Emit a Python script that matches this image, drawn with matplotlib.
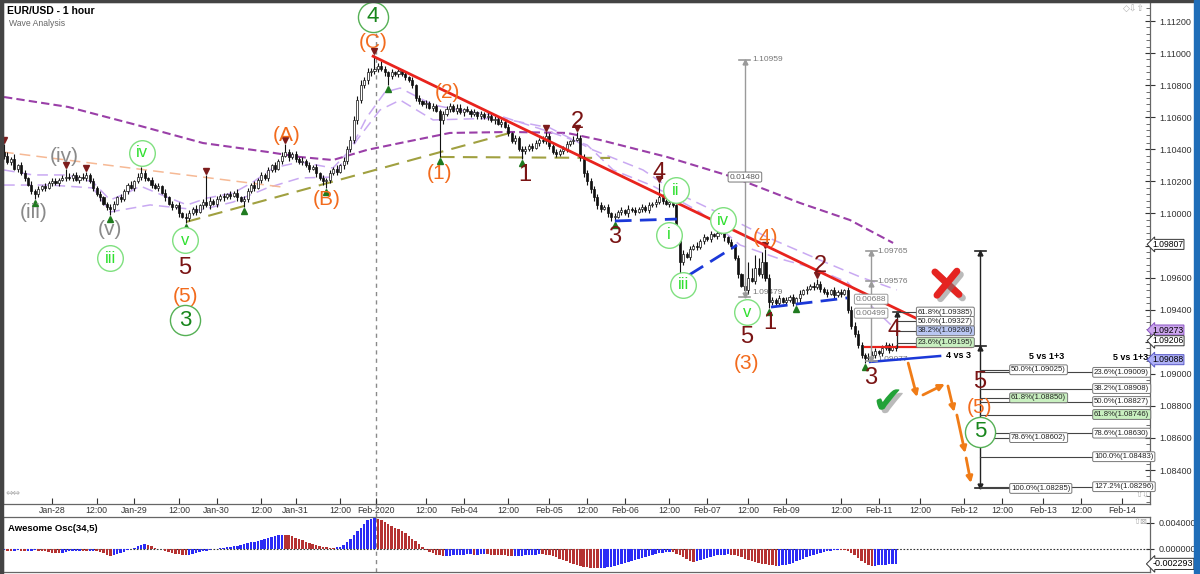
import numpy as np
import matplotlib.pyplot as plt
import matplotlib.patheffects as pe
from matplotlib.lines import Line2D
from matplotlib.patches import Rectangle

plt.rcParams['font.family'] = ['Liberation Sans', 'DejaVu Sans']

# prices are kept in pips above 1.0000 (1036 -> 1.1036), one entry per hourly bar
FIRST_OPEN = 1038
CLOSE = [
    1036, 1032, 1034, 1028, 1030, 1025, 1022, 1018, 1014, 1012,
    1015, 1017, 1016, 1019, 1020, 1019, 1021, 1022,
    1023, 1022, 1024, 1021, 1023, 1022, 1024, 1020,
    1016, 1012, 1010, 1006, 1004, 1003,
    1006, 1010, 1009, 1014, 1018, 1016, 1020, 1023, 1025,
    1022, 1021, 1018, 1016, 1017, 1013, 1010, 1006, 1004, 1005, 1000, 998, 997,
    1000, 1003, 1001, 1005, 1007, 1005,
    1008, 1006, 1009, 1011, 1010, 1012, 1011, 1013, 1010, 1008, 1009,
    1014, 1018, 1016, 1021, 1024, 1022, 1027, 1030, 1028, 1033, 1036, 1038,
    1035, 1037, 1034, 1032, 1033, 1030, 1028, 1029, 1025, 1022, 1020, 1021,
    1025, 1028, 1026, 1030, 1033,
    1040, 1046, 1058, 1071, 1080, 1083, 1088, 1089, 1090,
    1092, 1090, 1088, 1086,
    1088, 1087, 1089, 1087,
    1085, 1083, 1080, 1072,
    1070, 1068, 1069, 1066, 1067, 1064,
    1058,
    1062, 1065, 1067, 1064, 1066, 1063, 1065, 1064, 1062, 1063, 1061,
    1062, 1060, 1061, 1058, 1059, 1056, 1057, 1054,
    1050, 1045, 1047, 1040, 1039,
    1040, 1042, 1041, 1044, 1046, 1045, 1048,
    1042, 1038, 1037, 1039, 1040,
    1043, 1045, 1046, 1047,
    1035, 1025, 1020, 1015, 1010, 1005, 1003, 1004, 1000, 998,
    998, 1001, 1002, 1000, 1003, 1002, 1001, 1003, 1004, 1002, 1005, 1006,
    1007, 1010,
    1008, 1006, 1007, 1005,
    985, 970,
    975, 973, 978, 980, 979, 983, 985, 984, 987, 986, 988,
    988,
    985, 982, 980, 972,
    962, 955, 952,
    960, 958, 966, 962, 970,
    960, 945,
    946, 944, 947, 945, 946, 948, 944, 947, 950, 952,
    953, 955, 954, 956,
    953, 951, 950, 952, 949, 951, 950, 952,
    940, 930, 925, 918, 912, 910,
    910, 912, 914, 913, 916, 918, 915, 917, 916,
]
UPPER_WICK = [
    5, 2, 1, 3, 1, 2, 2, 1, 2, 1,
    2, 1, 2, 1, 2, 2, 1, 2,
    5, 2, 1, 2, 1, 2, 2, 1,
    2, 1, 2, 1, 1, 2,
    2, 1, 2, 1, 1, 2, 1, 2, 4,
    2, 1, 2, 1, 2, 1, 2, 1, 2, 1, 2, 1, 2,
    2, 1, 2, 1, 2, 17,
    2, 1, 2, 1, 2, 1, 2, 1, 2, 1, 2,
    2, 1, 2, 1, 2, 1, 2, 1, 2, 1, 2, 5,
    2, 1, 2, 1, 2, 1, 2, 1, 2, 1, 2, 1,
    2, 1, 2, 1, 2,
    2, 2, 3, 2, 3, 2, 3, 2, 9,
    2, 3, 2, 1,
    2, 1, 2, 1,
    2, 1, 2, 1,
    2, 1, 2, 1, 2, 1,
    1,
    2, 2, 2, 1, 2, 2, 1, 2, 1, 2, 1,
    2, 1, 2, 1, 2, 1, 2, 1,
    2, 1, 2, 1, 2,
    2, 1, 2, 2, 1, 2, 3,
    2, 1, 2, 1, 2,
    2, 1, 2, 4,
    2, 2, 2, 2, 2, 2, 2, 1, 2, 1,
    2, 1, 2, 1, 2, 1, 2, 1, 2, 1, 2, 1,
    2, 9,
    2, 1, 2, 1,
    1, 2,
    2, 1, 2, 1, 2, 1, 2, 1, 2, 1, 2,
    3,
    2, 1, 2, 1,
    2, 1, 2,
    10, 6, 8, 6, 6,
    8, 2,
    2, 1, 2, 1, 2, 1, 2, 1, 2, 1,
    2, 1, 2, 3,
    2, 1, 2, 1, 2, 1, 2, 1,
    2, 2, 2, 2, 2, 1,
    3, 2, 2, 1, 2, 2, 1, 2, 1,
]
LOWER_WICK = [
    2, 1, 2, 1, 2, 1, 2, 1, 2, 3,
    2, 1, 2, 1, 2, 1, 2, 1,
    2, 1, 2, 1, 2, 1, 2, 1,
    2, 1, 2, 1, 2, 4,
    2, 1, 2, 1, 2, 1, 2, 1, 2,
    2, 1, 2, 1, 2, 1, 2, 1, 2, 1, 2, 1, 3,
    2, 1, 2, 1, 2, 1,
    2, 1, 2, 1, 2, 1, 2, 1, 2, 1, 4,
    2, 1, 2, 1, 2, 1, 2, 1, 2, 1, 2, 1,
    2, 1, 2, 1, 2, 1, 2, 1, 2, 1, 2, 4,
    2, 1, 2, 1, 2,
    2, 2, 2, 2, 2, 2, 2, 2, 2,
    2, 1, 2, 6,
    2, 1, 2, 1,
    2, 1, 2, 2,
    2, 1, 2, 1, 2, 1,
    23,
    2, 1, 2, 1, 2, 1, 2, 1, 2, 1, 2,
    2, 1, 2, 1, 2, 1, 2, 1,
    2, 1, 2, 1, 5,
    2, 1, 2, 1, 2, 1, 2,
    2, 1, 2, 1, 2,
    2, 1, 2, 1,
    2, 2, 2, 2, 2, 2, 2, 1, 2, 3,
    3, 1, 2, 1, 2, 1, 2, 1, 2, 1, 2, 1,
    2, 1,
    2, 1, 2, 1,
    2, 7,
    2, 1, 2, 1, 2, 1, 2, 1, 2, 1, 2,
    1,
    2, 1, 2, 1,
    2, 1, 4,
    2, 1, 2, 1, 2,
    2, 4,
    2, 1, 2, 1, 2, 1, 2, 1, 2, 1,
    2, 1, 2, 1,
    2, 1, 2, 1, 2, 1, 2, 1,
    2, 2, 2, 2, 2, 3,
    2, 1, 2, 1, 2, 1, 2, 1, 2,
]

# Awesome oscillator, one value per bar, in units of 1e-5
AO = [
    -20, -25, -28, -25, -22, -25, -30, -28, -25, -22, -28, -30, -33,
    -45, -55, -58, -60, -55, -48,
    -35, -30, -28, -25, -27, -30, -28, -25, -30, -40, -60, -85, -105,
    -95, -80, -60, -40, -20, -5,
    20, 45, 65, 75, 60, 40,
    15, 5, -5,
    -25, -40, -55, -70, -80, -88, -90,
    -85, -75, -62, -50, -38, -25, -15, -5,
    5, 15, 20, 25, 30, 40, 50, 60, 70, 85, 100, 115, 130, 145, 160, 175, 190, 205, 215, 222,
    220, 210, 195, 175, 155, 135, 115, 95, 75, 55, 40, 30,
    25, 22, 20, 25, 35,
    60, 100, 150, 210, 270, 330, 390, 440, 465,
    470, 460, 440, 415, 390, 360, 330, 300, 270, 240, 200, 160, 120, 80, 30,
    -10, -40, -65, -85, -100, -110, -110, -105,
    -95, -90, -85, -85, -80, -80, -85, -85, -80, -78, -80, -85, -88, -90, -92,
    -100, -105, -110, -110, -108, -105, -100, -95,
    -90, -85, -80, -82, -88, -95,
    -110, -130, -150, -170, -190, -210, -230, -245, -260, -270, -280, -285, -290, -292, -290, -285,
    -280, -270, -255, -240, -225, -210, -195, -180, -165, -150, -135, -120, -105, -90, -75, -65,
    -55, -50, -48, -50,
    -70, -100, -130, -160, -190, -200,
    -190, -175, -160, -145, -130, -115, -100, -90, -85, -80, -85, -95,
    -110, -130, -150, -170, -190, -205, -215, -225, -230,
    -240, -250, -255, -255, -250,
    -240, -225, -210, -190, -170, -150, -130, -110, -90, -70, -55, -40, -30, -25,
    -20, -18, -20, -22, -28,
    -60, -100, -140, -180, -215, -245, -260,
    -255, -250, -245, -240, -235, -230, -229,
]
AO_LAST = -0.002293

TICK_BARS = [14, 27, 38, 51, 62, 75, 85, 98, 108.5, 123, 134, 147, 159, 170,
             181, 194, 205, 217, 228, 244, 255, 267, 280, 291, 303, 314, 326]
TICK_LABELS = ["Jan-28", "12:00", "Jan-29", "12:00", "Jan-30", "12:00", "Jan-31",
               "12:00", "Feb-2020", "12:00", "Feb-04", "12:00", "Feb-05", "12:00",
               "Feb-06", "12:00", "Feb-07", "12:00", "Feb-09", "12:00", "Feb-11",
               "12:00", "Feb-12", "12:00", "Feb-13", "12:00", "Feb-14"]
FEB_BAR = 108.5

# price axis labels; the ones covered by flags on the original are left blank
PRICE_TICKS = [1.084, 1.086, 1.088, 1.090, 1.092, 1.094, 1.096, 1.098,
               1.100, 1.102, 1.104, 1.106, 1.108, 1.110, 1.112]
PRICE_TICK_LABELS = ["1.08400", "1.08600", "1.08800", "1.09000", "", "1.09400", "1.09600", "",
                     "1.10000", "1.10200", "1.10400", "1.10600", "1.10800", "1.11000", "1.11200"]

# moving averages (bar, pips)
LONG_MA_BARS = [0, 18.7, 38.8, 58, 77, 86.3, 95.9, 105.8, 115.5, 130, 147.5, 164.1,
                173.8, 193.3, 212.5, 232.1, 246.6, 259.2]
LONG_MA = [1072.6, 1066.4, 1055.1, 1043.9, 1038.3, 1035.2, 1033.3, 1039.6, 1043.9,
           1050.2, 1050.8, 1050.2, 1045.8, 1035.2, 1022.7, 1006.5, 995.9, 981.6]
FAST_MA_BARS = [0, 8.5, 18.4, 25.9, 30.9, 35.9, 39.7, 47.5, 53.4, 59.2, 66.8, 72.6,
                78.4, 86.3, 95.9, 100.9, 105.8, 111.1, 115.5, 125.1, 135.9, 144.6,
                159.2, 170, 177.6, 189.2, 202.9, 214.6, 225.4, 235.9, 245.8, 252.5, 259.2]
FAST_MA = [1027.1, 1024, 1024, 1019.6, 1008.4, 1012.7, 1017.1, 1010.2, 1005.3, 1009.6,
           1012.7, 1019.6, 1028.3, 1032.1, 1028.3, 1039.6, 1060.1, 1075.7, 1078.2,
           1067.6, 1063.3, 1060.8, 1050.8, 1042.7, 1027.1, 1017.1, 1000.9, 980.3,
           972.2, 966, 957.2, 942.9, 929.2]
SLOW_MA_BARS = [0, 13.4, 25.9, 30.9, 42.6, 57.1, 66.8, 76.7, 86.3, 95.9, 102.9, 109.6,
                115.5, 125.1, 144.6, 159.2, 171.7, 186.3, 196.2, 210.8, 222.4, 237.9,
                249.6, 260.3]
SLOW_MA = [1017.7, 1017.7, 1015.9, 1000.9, 1005.3, 1002.1, 1007.1, 1015.9, 1022.1,
           1022.7, 1045.8, 1064.5, 1070.7, 1058.3, 1059.5, 1053.3, 1039.6, 1027.1,
           1012.7, 997.8, 985.3, 970.9, 960.4, 952.3]

# drawn trend lines: (bar0, pips0, bar1, pips1)
RED_TREND = (107.6, 1098.0, 267.0, 933.5)
RED_FLAT = (251.0, 916.7, 282.0, 916.7)
OLIVE_LINES = [(53.1, 994.7, 147.5, 1050.2), (127.1, 1035.2, 176.7, 1034.6)]
ORANGE_LINE = (-0.3, 1038.3, 81.3, 1016.4)
BLUE_DASHED = [(178.1, 995.3, 196.2, 996.5), (199.7, 961.6, 213.7, 980.3),
               (223.6, 941.6, 245.8, 947.3)]
BLUE_SOLID = (252.5, 907.4, 272.9, 911.1)

TOP_MARK_BARS = [0, 18, 24, 40, 59, 82, 108, 158, 167, 191, 209, 222, 237]
BOTTOM_MARK_BARS = [9, 31, 53, 70, 94, 112, 127, 151, 178, 197, 223, 231, 251]

# wave labels: text, bar, pips, style
WAVE_LABELS = [
    ("4", 107.6, 1122.5, "ring_dark"), ("(C)", 107.6, 1106.3, "orange"),
    ("(A)", 82.5, 1048.9, "orange"), ("(B)", 94.2, 1008.4, "orange"),
    ("(iv)", 17.5, 1035.2, "gray"), ("(iii)", 8.5, 1000.3, "gray"),
    ("(v)", 30.9, 989.7, "gray"), ("iii", 30.9, 972.2, "ring_light"),
    ("iv", 40.2, 1037.7, "ring_light"), ("v", 52.8, 983.4, "ring_light"),
    ("5", 52.8, 966.0, "brown"), ("(5)", 52.8, 947.9, "orange"),
    ("3", 52.8, 933.5, "ring_dark"),
    ("(2)", 129.4, 1075.7, "orange"), ("(1)", 127.1, 1025.2, "orange"),
    ("1", 151.9, 1024.0, "brown"), ("2", 167.3, 1057.0, "brown"),
    ("3", 178.1, 985.3, "brown"), ("4", 191.0, 1025.2, "brown"),
    ("ii", 195.9, 1014.6, "ring_light"), ("i", 193.9, 986.6, "ring_light"),
    ("iv", 209.6, 995.9, "ring_light"), ("(4)", 221.9, 985.3, "orange"),
    ("iii", 198.0, 955.4, "ring_light"), ("v", 216.6, 938.5, "ring_light"),
    ("5", 216.6, 922.9, "brown"), ("(3)", 216.6, 906.7, "orange"),
    ("1", 223.3, 931.7, "brown"), ("2", 237.9, 967.2, "brown"),
    ("4", 259.5, 927.3, "brown"), ("3", 252.8, 897.4, "brown"),
    ("5", 284.5, 894.9, "brown"), ("(5)", 284.5, 878.7, "orange"),
    ("5", 284.5, 863.7, "ring_dark"),
]

# fibonacci boxes: text, price, fill
FIB_LEFT = [("61.8%(1.09385)", 1.09385, "white"), ("50.0%(1.09327)", 1.09327, "white"),
            ("38.2%(1.09268)", 1.09268, "#b9c6f2"), ("23.6%(1.09195)", 1.09195, "#c9f0c0")]
FIB_MID = [("50.0%(1.09025)", 1.09025, "white"), ("61.8%(1.08850)", 1.08850, "#c9f0c0"),
           ("78.6%(1.08602)", 1.08602, "white"), ("100.0%(1.08285)", 1.08285, "white")]
FIB_RIGHT = [("23.6%(1.09009)", 1.09009, "white"), ("38.2%(1.08908)", 1.08908, "white"),
             ("50.0%(1.08827)", 1.08827, "white"), ("61.8%(1.08746)", 1.08746, "#c9f0c0"),
             ("78.6%(1.08630)", 1.08630, "white"), ("100.0%(1.08483)", 1.08483, "white"),
             ("127.2%(1.08296)", 1.08296, "white")]

# orange projection arrows (bar0, pips0, bar1, pips1)
ARROWS = [(263.6, 906.7, 266.2, 885.5), (267.9, 886.8, 274.3, 893.6),
          (275.2, 892.4, 277.0, 876.2), (277.8, 874.3, 280.2, 850.6),
          (280.5, 847.5, 281.9, 831.9)]

AXIS_FLAGS = [(1.09807, "1.09807", "white", "#333333"), (1.09273, "1.09273", "#cba6ec", "#8b55c4"),
              (1.09206, "1.09206", "white", "#333333"), (1.09088, "1.09088", "#aeb0f6", "#5a5ac8")]


def P(v):
    return 1 + np.asarray(v, float) / 1e4


n = min(len(CLOSE), len(UPPER_WICK), len(LOWER_WICK))
close = np.array(CLOSE[:n], float)
opens = np.concatenate([[FIRST_OPEN], close[:-1]])
high = np.maximum(opens, close) + np.array(UPPER_WICK[:n])
low = np.minimum(opens, close) - np.array(LOWER_WICK[:n])
bars = np.arange(n)

W, H = 1200, 574
fig = plt.figure(figsize=(W / 100, H / 100), dpi=100)
fig.patch.set_facecolor("white")
ax = fig.add_axes([3 / W, 1 - 504 / H, 1147 / W, 502 / H])
ao = fig.add_axes([3 / W, 1 - 572 / H, 1147 / W, 55 / H])

XLIM = (-0.3, 334.1)
ax.set_xlim(*XLIM)
ax.set_ylim(1.081880, 1.113185)

# moving averages and helper lines
ax.plot(LONG_MA_BARS, P(LONG_MA), color="#9a3fa8", lw=1.5, dashes=(4, 2), zorder=2)
ax.plot(FAST_MA_BARS, P(FAST_MA), color="#c9a9f2", lw=1.1, dashes=(7, 4), zorder=2)
ax.plot(SLOW_MA_BARS, P(SLOW_MA), color="#c9a9f2", lw=1.1, dashes=(7, 4), zorder=2)
b0, p0, b1, p1 = ORANGE_LINE
ax.plot([b0, b1], P([p0, p1]), color="#f6b995", lw=1.1, dashes=(7, 4), zorder=2)
for b0, p0, b1, p1 in OLIVE_LINES:
    ax.plot([b0, b1], P([p0, p1]), color="#a0a040", lw=1.5, dashes=(7, 4), zorder=2)

# candles
ax.vlines(bars, P(low), P(high), color="#111111", lw=0.8, zorder=3)
up = close >= opens
bottom = np.minimum(opens, close)
height = np.maximum(np.abs(close - opens), 0.4) / 1e4
ax.bar(bars[up], height[up], bottom=P(bottom[up]), width=0.6, color="white",
       edgecolor="#111111", lw=0.5, zorder=4)
ax.bar(bars[~up], height[~up], bottom=P(bottom[~up]), width=0.6, color="#111111",
       edgecolor="#111111", lw=0.5, zorder=4)

ax.plot(TOP_MARK_BARS, P(high[TOP_MARK_BARS] + 2.5), "v", color="#7d1c1c", ms=5, zorder=5)
ax.plot(BOTTOM_MARK_BARS, P(low[BOTTOM_MARK_BARS] - 2.5), "^", color="#1f7a1f", ms=5, zorder=5)

for b0, p0, b1, p1 in BLUE_DASHED:
    ax.plot([b0, b1], P([p0, p1]), color="#1b38d8", lw=2, dashes=(6, 3), zorder=5)
b0, p0, b1, p1 = BLUE_SOLID
ax.plot([b0, b1], P([p0, p1]), color="#1b38d8", lw=1.8, zorder=5)
b0, p0, b1, p1 = RED_TREND
ax.plot([b0, b1], P([p0, p1]), color="#e8231d", lw=2, zorder=6)
b0, p0, b1, p1 = RED_FLAT
ax.plot([b0, b1], P([p0, p1]), color="#e8231d", lw=1.6, zorder=6)

ax.axvline(FEB_BAR, color="#8a8a8a", lw=1, dashes=(3, 3), zorder=1)
ao.axvline(FEB_BAR, color="#8a8a8a", lw=1, dashes=(3, 3), zorder=1)


def measure(bar, top, bottom, mids, color, lw=1.0):
    ax.plot([bar, bar], [top, bottom], color=color, lw=lw, zorder=6)
    for p in [top] + mids:
        ax.plot([bar - 1.6, bar + 1.6], [p, p], color=color, lw=1.2, zorder=6)
        ax.plot([bar], [p - 0.00013], "^", color=color, ms=3.5, zorder=6)
    ax.plot([bar - 1.6, bar + 1.6], [bottom, bottom], color=color, lw=1.2, zorder=6)
    ax.plot([bar], [bottom + 0.00013], "v", color=color, ms=3.5, zorder=6)


def box_text(bar, price, text, fc="white", ec="#777777", ha="left", size=5.6, color="#222"):
    ax.text(bar, price, text, fontsize=size, ha=ha, va="center", color=color, zorder=9,
            bbox=dict(boxstyle="round,pad=0.18", fc=fc, ec=ec, lw=0.7))


# long gray measurement
measure(216.0, 1.10959, 1.09479, [], "#9a9a9a")
ax.text(218.2, 1.10959, "1.10959", fontsize=6, color="#777", va="center")
ax.text(218.2, 1.09479 + 0.0003, "1.09479", fontsize=6, color="#777", va="center")
box_text(216.0, 1.10227, "0.01480", ha="center", size=6, color="#555")

# short gray measurement
measure(252.8, 1.09765, 1.09077, [1.09576], "#9a9a9a")
ax.text(254.5, 1.09765, "1.09765", fontsize=6, color="#777", va="center")
ax.text(254.5, 1.09576, "1.09576", fontsize=6, color="#777", va="center")
ax.text(254.5, 1.09090, "1.09077", fontsize=6, color="#777", va="center")
box_text(252.8, 1.09465, "0.00688", ha="center", size=6, color="#777", ec="#999")
box_text(252.8, 1.09378, "0.00499", ha="center", size=6, color="#777", ec="#999")

# small black measurement next to wave 4 and left fib set
ax.plot([260.3, 260.3], [1.09385, 1.09167], color="#222", lw=0.9, zorder=6)
ax.plot([259.3, 261.3], [1.09385, 1.09385], color="#222", lw=1.1, zorder=6)
ax.plot([260.3], [1.09372], "^", color="#222", ms=3.5, zorder=6)
for text, price, fc in FIB_LEFT:
    ax.plot([260.3, 266.2], [price, price], color="#444", lw=0.8, zorder=6)
    box_text(266.4, price, text, fc=fc)

# right black measurement with fib sets
measure(284.6, 1.09765, 1.08285, [1.09173], "#222222")
for text, price, fc in FIB_RIGHT:
    ax.plot([284.6, 317.6], [price, price], color="#444", lw=0.8, zorder=6)
    box_text(317.8, price, text, fc=fc)
for text, price, fc in FIB_MID:
    ax.plot([284.6, 293.4], [price, price], color="#444", lw=0.8, zorder=7)
    box_text(293.6, price, text, fc=fc)
ax.text(278.4, 1.09117, "4 vs 3", fontsize=6.5, fontweight="bold", ha="center", va="center", zorder=9)
ax.text(304.0, 1.0911, "5 vs 1+3", fontsize=6.5, fontweight="bold", ha="center", va="center", zorder=9)
ax.text(328.4, 1.0910, "5 vs 1+3", fontsize=6.5, fontweight="bold", ha="center", va="center", zorder=9)

# wave labels
STYLES = {
    "brown": dict(color="#7a1414", fontsize=17),
    "orange": dict(color="#f26b1d", fontsize=15),
    "gray": dict(color="#8a8a8a", fontsize=15),
    "ring_dark": dict(color="#18861c", fontsize=16),
    "ring_light": dict(color="#2fe02f", fontsize=12),
}
for text, bar, pips, style in WAVE_LABELS:
    if style == "ring_dark":
        ax.scatter([bar], [P(pips)], s=470, facecolor="white", edgecolor="#55b055", lw=1, zorder=8)
    elif style == "ring_light":
        ax.scatter([bar], [P(pips)], s=340, facecolor="white", edgecolor="#7fe07f", lw=1, zorder=8)
    ax.text(bar, P(pips), text, ha="center", va="center", zorder=9, **STYLES[style])

for b0, p0, b1, p1 in ARROWS:
    ax.annotate("", xy=(b1, P(p1)), xytext=(b0, P(p0)), zorder=9,
                arrowprops=dict(arrowstyle="-|>", color="#f07c17", lw=2, mutation_scale=9,
                                shrinkA=0, shrinkB=0))

shadow = [pe.SimpleLineShadow(offset=(2.5, -2.5), shadow_color="#777", alpha=0.5), pe.Normal()]
ax.plot([271.4, 278.4], [P(963.5), P(949.5)], color="#e52421", lw=5, solid_capstyle="round",
        path_effects=shadow, zorder=9)
ax.plot([272.0, 277.8], [P(949.0), P(964.0)], color="#e52421", lw=5, solid_capstyle="round",
        path_effects=shadow, zorder=9)
ax.text(257.7, P(881.8), "\u2714", fontsize=27, color="#23a238", ha="center", va="center",
        family="DejaVu Sans", zorder=9,
        path_effects=[pe.withSimplePatchShadow(offset=(2.5, -2.5), shadow_rgbFace="#777", alpha=0.5)])

# axes styling
ax.set_yticks(PRICE_TICKS)
ax.set_yticklabels(PRICE_TICK_LABELS)
ax.set_yticks(np.arange(1.0820, 1.1132, 0.0004), minor=True)
ax.yaxis.tick_right()
ax.tick_params(axis="y", which="major", direction="inout", length=7, labelsize=6.5, pad=3,
               colors="#333", width=0.8)
ax.tick_params(axis="y", which="minor", direction="in", length=3, width=0.6, colors="#555")
ax.set_xticks(TICK_BARS)
ax.set_xticklabels(TICK_LABELS)
ax.tick_params(axis="x", direction="in", length=4, labelsize=6.3, pad=1.5, colors="#333", width=0.8)
for s in ax.spines.values():
    s.set_color("#666")
    s.set_linewidth(0.9)

for price, text, fc, ec in AXIS_FLAGS:
    ax.text(1.002, price, text, transform=ax.get_yaxis_transform(), fontsize=6.2, va="center",
            ha="left", zorder=10, clip_on=False,
            bbox=dict(boxstyle="larrow,pad=0.06", fc=fc, ec=ec, lw=0.7))

# awesome oscillator
aov = np.array(AO[:n], float) / 1e5
prev = np.concatenate([[aov[0]], aov[:-1]])
colors = np.where(aov >= prev, "#2b2bf5", "#b53232")
ao.bar(np.arange(len(aov)), aov, width=0.72, color=colors, lw=0, zorder=3)
ao.axhline(0, color="#333", lw=0.8, dashes=(1.5, 1.5), zorder=2)
ao.set_xlim(*XLIM)
ao.set_ylim(-0.00354, 0.00492)
ao.set_xticks([])
ao.yaxis.tick_right()
ao.set_yticks([0.004, 0.0])
ao.set_yticklabels(["0.004000", "0.000000"])
ao.tick_params(axis="y", direction="inout", length=6, labelsize=6.5, pad=3, colors="#333")
for s in ao.spines.values():
    s.set_color("#666")
    s.set_linewidth(0.9)
ao.text(1.002, AO_LAST, f"{AO_LAST:.6f}", transform=ao.get_yaxis_transform(), fontsize=6.5,
        va="center", ha="left", clip_on=False,
        bbox=dict(boxstyle="larrow,pad=0.12", fc="white", ec="#333", lw=0.7))
ao.text(0.004, 0.88, "Awesome Osc(34,5)", transform=ao.transAxes, fontsize=6.8,
        fontweight="bold", va="top")

# Feb-2020 dashed line across the date strip
xf = fig.transFigure.inverted().transform(ax.transData.transform((FEB_BAR, 1.09)))[0]
fig.add_artist(Line2D([xf, xf], [1 - 517 / H, 1 - 504 / H], color="#8a8a8a", lw=1, dashes=(3, 3)))

# titles, frame and icons
fig.text(7 / W, 1 - 11 / H, "EUR/USD - 1 hour", fontsize=7.5, fontweight="bold", va="center")
fig.text(9 / W, 1 - 23 / H, "Wave Analysis", fontsize=6.2, color="#666", va="center")
fig.text(6 / W, 1 - 494 / H, "\u21d4\u21d4", fontsize=6.5, color="#aaa", va="center", family="DejaVu Sans")
fig.text(1123 / W, 1 - 8 / H, "\u25c7\u21e9\u21e7", fontsize=6.5, color="#aaa", va="center", family="DejaVu Sans")
fig.text(1136 / W, 1 - 494 / H, "\u21e7\u21e9", fontsize=6, color="#aaa", va="center", family="DejaVu Sans")
fig.text(1134 / W, 1 - 521 / H, "\u21e7\u22a0", fontsize=6, color="#aaa", va="center", family="DejaVu Sans")
fig.add_artist(Rectangle((0, 0), 2.5 / W, 1, transform=fig.transFigure, color="#444", zorder=20))
fig.add_artist(Rectangle((0, 1 - 1.5 / H), 1, 1.5 / H, transform=fig.transFigure, color="#444", zorder=20))
fig.add_artist(Rectangle((1194 / W, 0), 6 / W, 1, transform=fig.transFigure, color="#1f6db8", zorder=20))

fig.savefig("out.png", dpi=100)
